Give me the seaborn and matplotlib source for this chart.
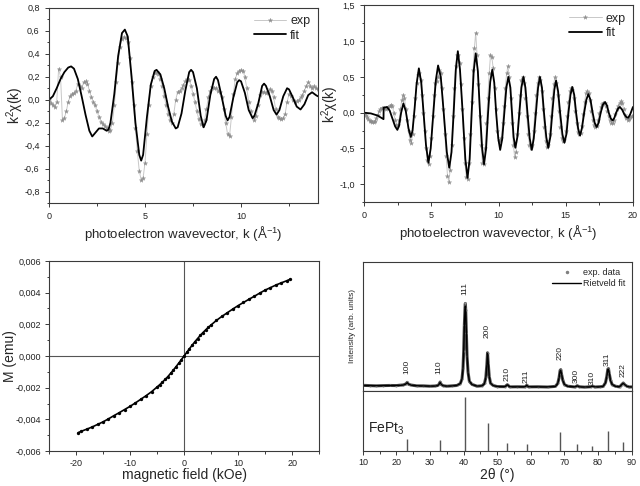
import numpy as np
import matplotlib
matplotlib.use("Agg")
import matplotlib.pyplot as plt
import seaborn as sns
from matplotlib.ticker import MultipleLocator, FuncFormatter
from matplotlib.lines import Line2D

# ---- EXAFS, sample 1 (top left) ----
k_exp1 = np.round(np.arange(0, 14.01, 0.1), 2)
chi_exp1 = [
    0.0, -0.03, -0.05, -0.06, -0.02, 0.27, 0.2, -0.18, -0.16, -0.1,
    -0.02, 0.03, 0.05, 0.06, 0.08, 0.14, 0.12, 0.1, 0.15, 0.16,
    0.14, 0.08, 0.02, -0.02, -0.05, -0.1, -0.15, -0.19, -0.21, -0.23,
    -0.25, -0.27, -0.26, -0.2, -0.05, 0.15, 0.32, 0.46, 0.53, 0.55,
    0.54, 0.5, 0.36, 0.15, -0.05, -0.25, -0.45, -0.62, -0.7, -0.68,
    -0.55, -0.3, -0.05, 0.12, 0.2, 0.23, 0.24, 0.22, 0.18, 0.12,
    0.03, -0.05, -0.12, -0.18, -0.2, -0.12, 0.0, 0.07, 0.08, 0.1,
    0.13, 0.16, 0.18, 0.17, 0.12, 0.05, -0.02, -0.1, -0.17, -0.21,
    -0.22, -0.18, -0.08, 0.02, 0.08, 0.11, 0.1, 0.1, 0.08, 0.07,
    0.02, -0.08, -0.2, -0.3, -0.32, -0.15, 0.05, 0.18, 0.23, 0.25,
    0.26, 0.25, 0.2, 0.1, -0.02, -0.1, -0.15, -0.18, -0.14, -0.05,
    0.04, 0.07, 0.07, 0.06, 0.07, 0.09, 0.08, 0.02, -0.08, -0.15,
    -0.16, -0.17, -0.16, -0.12, -0.02, 0.05, 0.03, 0.0, -0.02, -0.01,
    0.0, 0.02, 0.04, 0.08, 0.12, 0.15, 0.12, 0.1, 0.12, 0.1,
    0.09,
]
k_fit1 = [0, 0.2, 0.4, 0.6, 0.8, 1.0, 1.15, 1.3, 1.5, 1.7, 1.9, 2.1, 2.25,
          2.4, 2.6, 2.8, 3.0, 3.1, 3.2, 3.4, 3.6, 3.8, 3.95, 4.1, 4.3, 4.5,
          4.7, 4.8, 4.9, 5.1, 5.3, 5.5, 5.6, 5.8, 6.0, 6.2, 6.4, 6.6, 6.7,
          6.9, 7.1, 7.3, 7.4, 7.5, 7.7, 7.9, 8.05, 8.2, 8.4, 8.6, 8.7, 8.8,
          9.0, 9.2, 9.3, 9.4, 9.6, 9.8, 9.9, 10.0, 10.2, 10.4, 10.6, 10.7,
          10.9, 11.1, 11.2, 11.3, 11.5, 11.7, 11.85, 12.0, 12.2, 12.4, 12.5,
          12.7, 12.9, 13.1, 13.3, 13.5, 13.7, 13.9, 14.0]
chi_fit1 = [0.0, 0.03, 0.1, 0.18, 0.24, 0.28, 0.29, 0.27, 0.18, 0.03, -0.13,
            -0.27, -0.32, -0.29, -0.25, -0.25, -0.27, -0.26, -0.2, 0.05, 0.38,
            0.58, 0.61, 0.55, 0.2, -0.2, -0.48, -0.53, -0.48, -0.15, 0.13,
            0.25, 0.26, 0.22, 0.1, -0.06, -0.19, -0.25, -0.24, -0.12, 0.08,
            0.24, 0.26, 0.24, 0.1, -0.14, -0.24, -0.18, 0.04, 0.18, 0.2, 0.17,
            0.02, -0.14, -0.18, -0.15, 0.02, 0.15, 0.17, 0.16, 0.06, -0.09,
            -0.16, -0.14, -0.03, 0.12, 0.14, 0.12, 0.03, -0.09, -0.13, -0.09,
            0.03, 0.1, 0.09, 0.02, -0.06, -0.085, -0.04, 0.04, 0.065, 0.04,
            0.03]

# ---- EXAFS, sample 2 (top right) ----
k_exp2 = np.round(np.arange(0, 20.01, 0.1), 2)
chi_exp2 = [
    0.0, -0.03, -0.06, -0.09, -0.11, -0.12, -0.13, -0.13, -0.11, -0.08,
    -0.03, 0.02, 0.05, 0.07, 0.07, 0.06, 0.05, 0.06, 0.08, 0.1,
    0.11, 0.1, 0.0, -0.1, -0.17, -0.17, -0.1, 0.05, 0.18, 0.25,
    0.2, 0.05, -0.1, -0.25, -0.38, -0.42, -0.3, -0.05, 0.2, 0.42,
    0.53, 0.56, 0.45, 0.25, 0.0, -0.25, -0.5, -0.66, -0.72, -0.6,
    -0.35, -0.05, 0.25, 0.42, 0.44, 0.5, 0.6, 0.55, 0.35, 0.05,
    -0.3, -0.6, -0.88, -0.97, -0.8, -0.45, -0.05, 0.35, 0.65, 0.8,
    0.8, 0.7, 0.4, 0.05, -0.35, -0.7, -0.9, -0.92, -0.7, -0.3,
    0.15, 0.6, 0.9, 1.12, 0.8, 0.4, -0.05, -0.45, -0.7, -0.72,
    -0.5, -0.15, 0.2, 0.55, 0.8, 0.78, 0.62, 0.35, 0.05, -0.25,
    -0.4, -0.38, -0.35, -0.15, 0.1, 0.35, 0.55, 0.65, 0.5, 0.2,
    -0.15, -0.45, -0.62, -0.55, -0.3, 0.0, 0.25, 0.45, 0.5, 0.42,
    0.2, -0.05, -0.3, -0.45, -0.5, -0.45, -0.25, 0.0, 0.25, 0.42,
    0.5, 0.45, 0.3, 0.05, -0.2, -0.4, -0.48, -0.45, -0.3, -0.05,
    0.2, 0.4, 0.5, 0.42, 0.25, 0.02, -0.2, -0.35, -0.4, -0.38,
    -0.25, -0.05, 0.15, 0.3, 0.35, 0.32, 0.2, 0.02, -0.15, -0.27,
    -0.3, -0.28, -0.18, -0.02, 0.15, 0.27, 0.3, 0.28, 0.18, 0.02,
    -0.1, -0.17, -0.2, -0.18, -0.1, 0.0, 0.08, 0.12, 0.14, 0.14,
    0.1, 0.02, -0.05, -0.1, -0.14, -0.15, -0.1, -0.02, 0.05, 0.1,
    0.14, 0.16, 0.13, 0.05, -0.03, -0.08, -0.1, -0.09, -0.06, -0.05,
    -0.04,
]
k_fit2 = [0.0, 0.5, 1.0, 1.44, 1.45, 1.7, 1.9, 2.1, 2.3, 2.47,
          2.6, 2.75, 2.92, 3.1, 3.3, 3.47,
          3.6, 3.75, 3.9, 4.07,
          4.25, 4.42, 4.6, 4.78, 4.95, 5.15, 5.33, 5.5,
          5.7, 5.92, 6.15, 6.33, 6.5, 6.66, 6.82, 6.97,
          7.13, 7.33, 7.53, 7.69, 7.85, 8.0, 8.15, 8.3,
          8.46, 8.62, 8.78, 8.92, 9.07, 9.22, 9.38, 9.53,
          9.68, 9.82, 9.98, 10.12, 10.27, 10.43, 10.58, 10.73,
          10.88, 11.0, 11.12, 11.25, 11.4, 11.55, 11.7, 11.85,
          12.0, 12.15, 12.32, 12.47, 12.62, 12.78, 12.94, 13.08,
          13.23, 13.38, 13.55, 13.7, 13.85, 14.0, 14.15, 14.28,
          14.43, 14.58, 14.75, 14.9, 15.05, 15.2, 15.35, 15.49,
          15.63, 15.77, 15.92, 16.06, 16.2, 16.37, 16.53, 16.68,
          16.84, 17.0, 17.15, 17.3, 17.45, 17.6, 17.76, 17.92,
          18.07, 18.2, 18.35, 18.49, 18.62, 18.75, 18.9, 19.03,
          19.2, 19.35, 19.5, 19.65, 19.8, 19.9, 20.0]
chi_fit2 = [0.0, -0.01, -0.04, -0.09, 0.07, 0.08, 0.03, -0.08, -0.19, -0.24,
            -0.18, 0.0, 0.13, 0.02, -0.22, -0.34,
            -0.25, 0.05, 0.4, 0.62,
            0.42, 0.0, -0.45, -0.7, -0.5, 0.0, 0.45, 0.66,
            0.5, 0.0, -0.55, -0.77, -0.55, 0.0, 0.6, 0.86,
            0.6, 0.0, -0.65, -0.91, -0.65, 0.0, 0.58, 0.83,
            0.58, 0.0, -0.5, -0.72, -0.5, 0.0, 0.43, 0.6,
            0.42, 0.0, -0.36, -0.52, -0.37, 0.0, 0.35, 0.5,
            0.35, 0.0, -0.34, -0.49, -0.34, 0.0, 0.35, 0.5,
            0.35, 0.0, -0.36, -0.52, -0.36, 0.0, 0.35, 0.5,
            0.35, 0.0, -0.34, -0.49, -0.34, 0.0, 0.32, 0.45,
            0.3, 0.0, -0.3, -0.42, -0.3, 0.0, 0.25, 0.36,
            0.25, 0.0, -0.22, -0.32, -0.22, 0.0, 0.18, 0.26,
            0.18, 0.0, -0.14, -0.2, -0.14, 0.0, 0.11, 0.15,
            0.1, 0.0, -0.08, -0.11, -0.07, 0.0, 0.06, 0.08,
            0.04, -0.02, -0.06, -0.07, -0.02, 0.03, 0.08]

# ---- magnetisation loop (bottom left) ----
field = [-19.6, -19, -18, -17, -16, -15, -14, -13, -12, -11, -10, -9, -8, -7,
         -6, -5, -4.5, -4, -3.5, -3, -2.5, -2, -1.5, -1, -0.5, 0, 0.5, 1,
         1.5, 2, 2.5, 3, 3.5, 4, 4.5, 5, 6, 7, 8, 9, 10, 11, 12, 13, 14, 15,
         16, 17, 18, 19, 19.6]
moment = [-0.00484, -0.00475, -0.00462, -0.00448, -0.00432, -0.00416,
          -0.00397, -0.00377, -0.00358, -0.00338, -0.00318, -0.00296,
          -0.00273, -0.0025, -0.00225, -0.00196, -0.00181, -0.00165,
          -0.00148, -0.0013, -0.0011, -0.0009, -0.00068, -0.00046, -0.00023,
          0.0, 0.00023, 0.00046, 0.00068, 0.0009, 0.0011, 0.0013, 0.00148,
          0.00165, 0.00181, 0.00196, 0.00225, 0.0025, 0.00273, 0.00296,
          0.00318, 0.00338, 0.00358, 0.00377, 0.00397, 0.00416, 0.00432,
          0.00448, 0.00462, 0.00475, 0.00484]

# ---- XRD (bottom right) ----
two_theta = [10, 12, 14, 16, 18, 20, 21, 22, 22.8, 23.2,
             23.6, 24.4, 26, 28, 30, 31.5, 32.3, 32.7, 33.0, 33.3,
             33.9, 35, 36.5, 38, 39, 39.5, 39.8, 40.0, 40.2, 40.4,
             40.5, 40.6, 40.8, 41.0, 41.3, 41.7, 42.5, 44, 45.5, 46.2,
             46.6, 46.9, 47.1, 47.3, 47.6, 48.0, 48.8, 50, 52.3, 53.0,
             53.7, 56, 58.3, 58.8, 59.3, 62, 65, 67.3, 68.0, 68.4,
             68.7, 68.9, 69.1, 69.5, 70.0, 71, 73.2, 73.8, 74.4, 76,
             77.8, 78.4, 79.0, 80.5, 81.5, 82.2, 82.6, 82.9, 83.1, 83.3,
             83.7, 84.2, 85.2, 86.4, 87.0, 87.5, 88.0, 88.6, 89.3, 90]
int_fit = [4.0, 3.9, 3.9, 3.9, 4.0, 4.1, 4.2, 4.4, 5.2, 6.3,
           5.2, 4.3, 3.9, 3.7, 3.6, 3.6, 4.0, 5.0, 6.5, 5.0,
           3.8, 3.6, 3.7, 4.2, 5.5, 9.0, 17, 30, 50, 63,
           65.5, 62, 46, 28, 14, 7.5, 4.8, 3.6, 3.8, 5.5,
           10, 20, 28.9, 22, 11, 6.0, 4.0, 3.3, 3.1, 4.6,
           3.1, 3.0, 3.1, 4.2, 3.1, 3.0, 3.0, 3.3, 5.5, 10,
           15.5, 16, 13.5, 8, 4.8, 3.4, 3.0, 3.8, 3.0, 2.9,
           3.0, 3.5, 3.0, 3.0, 3.4, 6.0, 11, 16.5, 16.8, 14,
           8, 4.8, 3.4, 3.1, 4.6, 5.8, 4.6, 3.4, 3.0, 2.9]
int_exp = [4.2, 4.0, 3.8, 4.0, 4.1, 4.0, 4.3, 4.5, 5.3, 6.5,
           5.0, 4.4, 3.8, 3.8, 3.5, 3.7, 4.1, 5.1, 6.8, 4.9,
           3.9, 3.5, 3.8, 4.1, 5.6, 9.2, 17.5, 31, 51, 64.5,
           67.8, 63, 45, 27, 14.5, 7.2, 4.9, 3.5, 3.9, 5.7,
           10.5, 20.5, 29.5, 21.5, 11.2, 5.8, 4.1, 3.2, 3.2, 4.7,
           3.0, 3.1, 3.0, 4.3, 3.0, 3.1, 2.9, 3.4, 5.7, 10.3,
           15.8, 16.4, 13.2, 8.2, 4.7, 3.5, 2.9, 3.9, 3.1, 2.8,
           3.1, 3.6, 2.9, 3.1, 3.3, 6.2, 11.3, 16.8, 17.2, 13.7,
           8.2, 4.7, 3.5, 3.0, 4.7, 6.0, 4.5, 3.5, 2.9, 3.0]
hkl = ["100", "110", "111", "200", "210", "211", "220", "300", "310", "311", "222"]
hkl_pos = [23.2, 32.9, 40.5, 47.1, 53.0, 58.7, 68.8, 73.7, 78.3, 83.0, 87.5]
ref_int = [23, 20, 100, 52, 14, 13, 35, 12, 10, 37, 17]

sns.set_theme(style="ticks")
plt.rcParams["font.family"] = ["Liberation Sans", "DejaVu Sans"]
plt.rcParams["mathtext.fontset"] = "custom"
plt.rcParams["mathtext.rm"] = "Liberation Sans"
plt.rcParams["mathtext.it"] = "Liberation Sans:italic"
plt.rcParams["axes.edgecolor"] = "#3a3a3a"
plt.rcParams["axes.linewidth"] = 0.8
plt.rcParams["axes.unicode_minus"] = False

DARK = "#3a3a3a"


def comma(dec):
    def f(v, pos):
        if abs(v) < 1e-12:
            v = 0.0
        return f"{v:.{dec}f}".replace(".", ",")
    return FuncFormatter(f)


def tidy(ax, pad=3.5):
    ax.tick_params(which="both", direction="out", colors=DARK, width=0.7,
                   labelsize=6.5, labelcolor="#222", pad=pad)
    ax.tick_params(which="major", length=3.2)
    ax.tick_params(which="minor", length=1.8)
    for s in ax.spines.values():
        s.set_visible(True)
        s.set_color(DARK)


def place_labels(ax, xl=None, yl=None):
    # put axis titles where the reference has them (axes fraction)
    if xl is not None:
        ax.xaxis.set_label_coords(0.5, xl)
        ax.xaxis.label.set_va("center")
    if yl is not None:
        ax.yaxis.set_label_coords(yl, 0.5)
        ax.yaxis.label.set_va("center")


def exafs(ax, k_e, chi_e, k_f, chi_f):
    sns.lineplot(x=k_e, y=chi_e, ax=ax, color="#c8c8c8", lw=0.7, marker="*",
                 markersize=3.3, markerfacecolor="#909090",
                 markeredgecolor="#858585", markeredgewidth=0.2,
                 estimator=None, sort=False, label="exp")
    sns.lineplot(x=k_f, y=chi_f, ax=ax, color="black", lw=1.3,
                 estimator=None, sort=False, label="fit")
    ax.legend(loc="upper right", frameon=False, fontsize=9, handlelength=2.6,
              borderaxespad=0.2, labelspacing=0.2, handletextpad=0.3)
    ax.set_xlabel("photoelectron wavevector, k (Å$^{-1}$)", fontsize=9.5)
    ax.set_ylabel("k$^{2}$χ(k)", fontsize=10)
    ax.xaxis.set_major_locator(MultipleLocator(5))
    ax.xaxis.set_minor_locator(MultipleLocator(2.5))
    place_labels(ax, -0.155, -0.125)
    tidy(ax)


fig = plt.figure(figsize=(6.4, 4.86), dpi=100)

ax1 = fig.add_axes([0.0766, 0.582, 0.420, 0.402])
exafs(ax1, k_exp1, chi_exp1, k_fit1, chi_fit1)
ax1.set_xlim(0, 14)
ax1.set_ylim(-0.9, 0.8)
ax1.yaxis.set_major_locator(MultipleLocator(0.2))
ax1.yaxis.set_minor_locator(MultipleLocator(0.1))
ax1.yaxis.set_major_formatter(comma(1))

ax2 = fig.add_axes([0.569, 0.584, 0.420, 0.405])
exafs(ax2, k_exp2, chi_exp2, k_fit2, chi_fit2)
ax2.set_xlim(0, 20)
ax2.set_ylim(-1.25, 1.5)
ax2.yaxis.set_major_locator(MultipleLocator(0.5))
ax2.yaxis.set_minor_locator(MultipleLocator(0.25))
ax2.yaxis.set_major_formatter(comma(1))

ax3 = fig.add_axes([0.0766, 0.072, 0.422, 0.391])
ax3.axhline(0, color="#555555", lw=0.8, zorder=0)
ax3.axvline(0, color="#555555", lw=0.8, zorder=0)
sns.lineplot(x=field, y=moment, ax=ax3, color="black", lw=1.2, marker="o",
             markersize=2.4, markeredgewidth=0, estimator=None, sort=False)
ax3.set_xlim(-25, 25)
ax3.set_ylim(-0.006, 0.006)
ax3.xaxis.set_major_locator(MultipleLocator(10))
ax3.xaxis.set_minor_locator(MultipleLocator(5))
ax3.yaxis.set_major_locator(MultipleLocator(0.002))
ax3.yaxis.set_minor_locator(MultipleLocator(0.001))
ax3.yaxis.set_major_formatter(comma(3))
ax3.set_xlabel("magnetic field (kOe)", fontsize=10)
ax3.set_ylabel("M (emu)", fontsize=10)
place_labels(ax3, -0.125, -0.145)
tidy(ax3, pad=2.2)

ax4 = fig.add_axes([0.567, 0.196, 0.420, 0.265])
sns.lineplot(x=two_theta, y=int_exp, ax=ax4, color="#4a4a4a", lw=2.2,
             marker="o", markersize=1.6, markeredgewidth=0,
             markerfacecolor="#909090", estimator=None, sort=False)
sns.lineplot(x=two_theta, y=int_fit, ax=ax4, color="black", lw=1.0,
             estimator=None, sort=False)
label_y = [12.9, 12.9, 74.2, 41.3, 7.5, 6.2, 23.8, 6.2, 4.4, 19.5, 10.3]
for lab, pos, yy in zip(hkl, hkl_pos, label_y):
    ax4.text(pos - 0.2, yy, lab, rotation=90, ha="center", va="bottom",
             fontsize=6, color="#222")
handles = [Line2D([], [], ls="none", marker=".", markersize=3, color="#808080"),
           Line2D([], [], color="black", lw=1.0)]
ax4.legend(handles, ["exp. data", "Rietveld fit"], loc="upper right",
           frameon=False, fontsize=6.5, handlelength=3.2, borderaxespad=0.3,
           labelspacing=0.2, handletextpad=0.2)
ax4.set_xlim(10, 90)
ax4.set_ylim(0, 100)
ax4.set_yticks([])
ax4.xaxis.set_major_locator(MultipleLocator(10))
ax4.xaxis.set_minor_locator(MultipleLocator(5))
ax4.set_xticklabels([])
ax4.set_xlabel("")
ax4.set_ylabel("Intensity (arb. units)", fontsize=6)
place_labels(ax4, None, -0.04)
tidy(ax4)

ax5 = fig.add_axes([0.567, 0.072, 0.420, 0.124])
ax5.vlines(hkl_pos, 0, ref_int, color="#555555", lw=1.0)
ax5.text(11.5, 40, "FePt$_3$", fontsize=10, va="center", ha="left",
         color="#222")
ax5.set_xlim(10, 90)
ax5.set_ylim(0, 111)
ax5.set_yticks([])
ax5.xaxis.set_major_locator(MultipleLocator(10))
ax5.xaxis.set_minor_locator(MultipleLocator(5))
ax5.set_xlabel("2θ (°)", fontsize=10)
place_labels(ax5, -0.39, None)
tidy(ax5, pad=1.5)

fig.savefig("out.png", dpi=100)
